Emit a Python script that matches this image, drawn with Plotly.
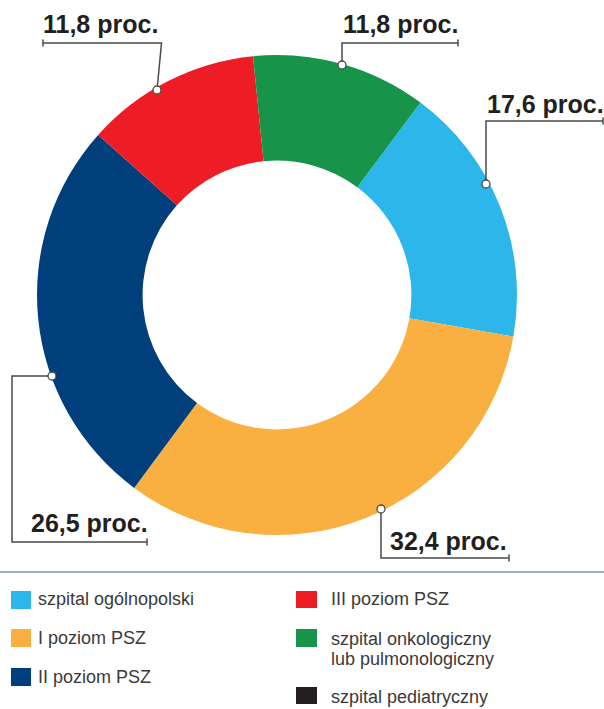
import plotly.graph_objects as go

# ---------------- data ----------------
labels = [
    "szpital ogólnopolski",
    "I poziom PSZ",
    "II poziom PSZ",
    "III poziom PSZ",
    "szpital onkologiczny\nlub pulmonologiczny",
    "szpital pediatryczny",
]
values = [17.6, 32.4, 26.5, 11.8, 11.8, 0.0]
colors = ["#2db6ea", "#f9b041", "#003f7b", "#ee1c25", "#17934a", "#231f20"]

# ---------------- layout constants (pixels) ----------------
W, H = 604, 709
CX, CY, R = 277, 295, 240
HOLE = 0.56
ROTATION = 36.7


def px(x):
    return x / W


def py(y):
    return 1 - y / H


# leader lines per slice index: polyline points, text anchor, xanchor
leaders = {
    0: dict(path=[(486, 184), (486, 121), (603, 121)], tick=(603, 121), text=(605, 104), xa="right"),
    1: dict(path=[(381, 509), (381, 558), (509, 558)], tick=(509, 558), text=(508, 541), xa="right"),
    2: dict(path=[(52, 376), (12, 376), (12, 542), (147, 542)], tick=(147, 542), text=(149, 523), xa="right"),
    3: dict(path=[(157, 90), (161.5, 43), (43, 43)], tick=(43, 43), text=(42, 24), xa="left"),
    4: dict(path=[(342, 65), (342, 43), (458, 43)], tick=(458, 43), text=(459, 24), xa="right"),
}

legend_pos = [
    dict(sw=(11, 31, 591, 609), tx=37, ty=599),
    dict(sw=(11, 31, 629, 647), tx=37, ty=638),
    dict(sw=(11, 31, 668, 686), tx=37, ty=677),
    dict(sw=(296, 317, 591, 608), tx=330, ty=599),
    dict(sw=(296, 317, 629, 647), tx=330, ty=639),
    dict(sw=(296, 317, 687, 704), tx=330, ty=697),
]

pie_labels = [l for l, v in zip(labels, values) if v > 0]
pie_values = [v for v in values if v > 0]
pie_colors = [c for c, v in zip(colors, values) if v > 0]

fig = go.Figure(
    go.Pie(
        labels=pie_labels,
        values=pie_values,
        marker=dict(colors=pie_colors, line=dict(width=0)),
        hole=HOLE,
        sort=False,
        direction="clockwise",
        rotation=ROTATION,
        textinfo="none",
        hoverinfo="label+value",
        showlegend=False,
        domain=dict(x=[px(CX - R), px(CX + R)], y=[py(CY + R), py(CY - R)]),
    )
)

shapes = []
annotations = []
LINE_COL = "#4a4a4a"
LABEL_FONT = dict(family="Liberation Sans, Arial, sans-serif", size=25, color="#231f20")

for i, ld in leaders.items():
    pts = ld["path"]
    d = "M " + " L ".join(f"{px(x)},{py(y)}" for x, y in pts)
    shapes.append(dict(type="path", xref="paper", yref="paper", path=d,
                       line=dict(color=LINE_COL, width=1.5)))
    tx, ty = ld["tick"]
    shapes.append(dict(type="line", xref="paper", yref="paper",
                       x0=px(tx), x1=px(tx), y0=py(ty - 3.5), y1=py(ty + 3.5),
                       line=dict(color=LINE_COL, width=1.5)))
    cxp, cyp = pts[0]
    shapes.append(dict(type="circle", xref="paper", yref="paper",
                       xsizemode="pixel", ysizemode="pixel",
                       xanchor=px(cxp), yanchor=py(cyp),
                       x0=-4, x1=4, y0=-4, y1=4,
                       fillcolor="white", line=dict(color=LINE_COL, width=1.3)))
    txt = f"{values[i]:.1f}".replace(".", ",") + " proc."
    ax, ay = ld["text"]
    annotations.append(dict(x=px(ax), y=py(ay), xref="paper", yref="paper",
                            text=f"<b>{txt}</b>", showarrow=False,
                            xanchor=ld["xa"], yanchor="middle",
                            font=LABEL_FONT, borderpad=0))

# separator
shapes.append(dict(type="line", xref="paper", yref="paper",
                   x0=0, x1=1, y0=py(572), y1=py(572),
                   line=dict(color="#7a90a9", width=1.5)))

LEG_FONT = dict(family="Liberation Sans, Arial, sans-serif", size=18, color="#3a3a3a")
for lab, col, lp in zip(labels, colors, legend_pos):
    x0, x1, y0, y1 = lp["sw"]
    shapes.append(dict(type="rect", xref="paper", yref="paper",
                       x0=px(x0), x1=px(x1), y0=py(y1), y1=py(y0),
                       fillcolor=col, line=dict(width=0)))
    lines = lab.split("\n")
    for k, ln in enumerate(lines):
        annotations.append(dict(x=px(lp["tx"]), y=py(lp["ty"] + 20 * k),
                                xref="paper", yref="paper", text=ln,
                                showarrow=False, xanchor="left", yanchor="middle",
                                font=LEG_FONT, borderpad=0))

fig.update_layout(
    width=W, height=H,
    margin=dict(l=0, r=0, t=0, b=0),
    paper_bgcolor="white", plot_bgcolor="white",
    shapes=shapes, annotations=annotations,
    showlegend=False,
)

fig.write_html(
    "out.html",
    config={"displayModeBar": False},
    post_script="document.body.style.margin='0';document.body.style.overflow='hidden';",
)
